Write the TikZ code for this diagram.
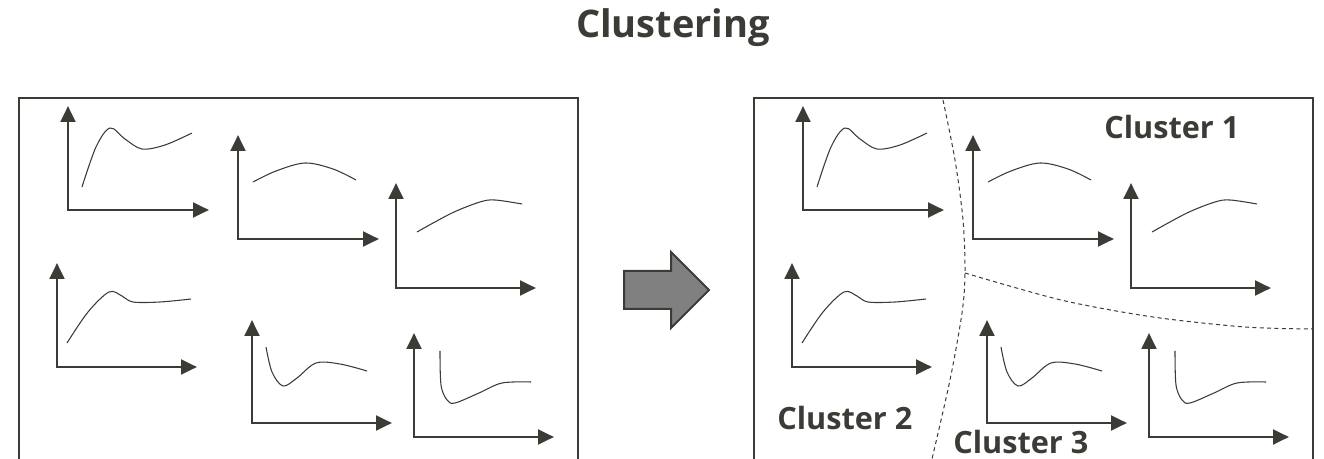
\documentclass[tikz,border=0pt]{standalone}
\usepackage{fontspec}
\setmainfont{Open Sans}
\usetikzlibrary{arrows.meta}
\definecolor{ink}{RGB}{58,60,54}
\definecolor{grisfleche}{RGB}{128,128,128}
\tikzset{
  cadre/.style={ink, line width=1.8pt, line join=miter},
  axe/.style={ink, line width=2.2pt, {Triangle[length=12pt,width=11pt]}-{Triangle[length=12pt,width=11pt]}},
  courbe/.style={ink, line width=0.8pt, smooth, tension=0.55},
  separation/.style={ink, line width=0.75pt, dash pattern=on 3pt off 2.5pt},
  etiquette/.style={text=ink, font=\bfseries\fontsize{23}{23}\selectfont, inner sep=0pt, anchor=base west},
  titre/.style={text=ink, font=\bfseries\fontsize{28.5}{28.5}\selectfont, inner sep=0pt, anchor=base},
  grossefleche/.style={draw=ink, fill=grisfleche, line width=1.5pt, line join=miter},
}
\begin{document}
\begin{tikzpicture}[x=0.75pt,y=-0.75pt]
\useasboundingbox (0,0) rectangle (1324,459);
\node[titre] (titre) at (673,38) {Clustering};

% les deux cadres, avec les memes six courbes
\foreach \dx in {0,735}{
\begin{scope}[xshift=\dx*0.75pt]
\draw[cadre] (19,459) -- (19,98) -- (578,98) -- (578,459);
\draw[axe] (68,106) |- (209,210);
\draw[courbe] plot coordinates {(82,187) (96,147) (110,128) (125,139) (142,149) (165,145) (192,133)};
\draw[axe] (238,135) |- (379,239);
\draw[courbe] plot coordinates {(253,182) (276,171) (305,163) (333,169) (356,180)};
\draw[axe] (396,183) |- (536,288);
\draw[courbe] plot coordinates {(417,232) (452,213) (480,202) (495,200) (522,204)};
\draw[axe] (57,263) |- (197,367);
\draw[courbe] plot coordinates {(67,343) (88,312) (109,292) (122,296) (133,302) (160,302) (191,299)};
\draw[axe] (252,320) |- (392,423);
\draw[courbe] plot coordinates {(266,347) (272,372) (283,386) (297,378) (316,363) (340,364) (367,371)};
\draw[axe] (414,333) |- (554,437);
\draw[courbe] plot coordinates {(440,351) (441,385) (447,400) (455,403) (479,393) (502,383) (531,382)};
\end{scope}
}

\draw[grossefleche] (624,271) -- (671,271) -- (671,252) -- (709,290) -- (671,328) -- (671,309) -- (624,309) -- cycle;

% frontieres des groupes
\coordinate (jonction) at (965,273);
\draw[separation] plot[smooth] coordinates {(943,100) (955,160) (963,220) (jonction) (962,313) (950,380) (932,459)};
\draw[separation] plot[smooth] coordinates {(jonction) (1061,300) (1153,317) (1245,327) (1313,329)};

\node[etiquette] (groupe1) at (1104,139) {Cluster 1};
\node[etiquette] (groupe2) at (777,430) {Cluster 2};
\node[etiquette] (groupe3) at (953,453.5) {Cluster 3};
\end{tikzpicture}
\end{document}
